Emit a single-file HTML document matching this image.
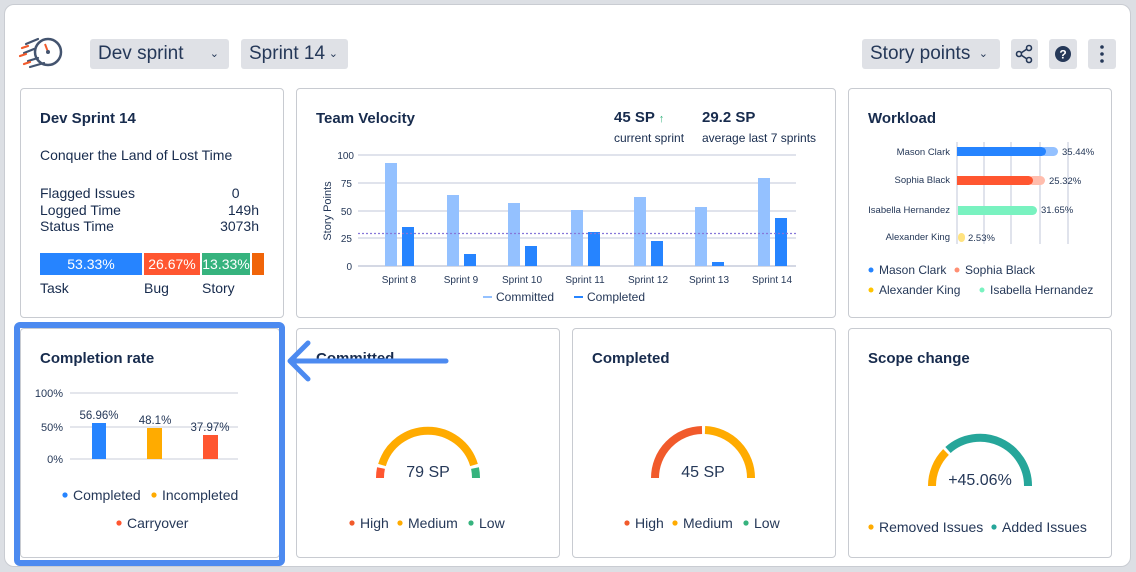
<!DOCTYPE html>
<html><head><meta charset="utf-8"><style>
*{margin:0;padding:0;box-sizing:border-box}
body{width:1136px;height:572px;background:#dcdfe4;font-family:"Liberation Sans",Arial,sans-serif;color:#172b4d;position:relative;overflow:hidden}
.frame{position:absolute;left:4px;top:4px;width:1127px;height:563px;background:#fff;border-radius:10px;border:1px solid #c9ccd2}
.card{position:absolute;background:#fff;border:1px solid #c8cbd1;border-radius:4px}
.t{position:absolute;font-size:15px;font-weight:bold;color:#172b4d}
.a{position:absolute;white-space:nowrap}
.btn{position:absolute;background:#dfe1e6;border-radius:3px;font-size:19px;color:#253858;height:30px;line-height:30px;padding-left:8px}
</style></head><body>
<div class="frame"></div>

<svg style="position:absolute;left:18px;top:34px" width="50" height="40" viewBox="0 0 50 40">
<circle cx="30" cy="18" r="13" fill="#fff" stroke="#44546f" stroke-width="2.5"/>
<line x1="30" y1="18" x2="27" y2="10" stroke="#f15a2b" stroke-width="2"/>
<circle cx="30" cy="18" r="2" fill="#44546f"/>
<path d="M8 10 L20 5 M6 19 L16 15 M10 27 L20 24 M12 33 L26 29" stroke="#44546f" stroke-width="2.2" stroke-linecap="round"/>
<path d="M4 14 L10 12 M2 22 L8 20 M6 30 L12 28" stroke="#f15a2b" stroke-width="2.2" stroke-linecap="round"/>
</svg>
<div class="btn" style="left:90px;top:39px;width:139px">Dev sprint <span style="position:absolute;right:10px;font-size:11px">&#8964;</span></div>
<div class="btn" style="left:241px;top:39px;width:107px">Sprint 14 <span style="position:absolute;right:10px;font-size:11px">&#8964;</span></div>
<div class="btn" style="left:862px;top:39px;width:138px">Story points <span style="position:absolute;right:12px;font-size:11px">&#8964;</span></div>
<div class="btn" style="left:1011px;top:39px;width:27px;padding:0"><svg width="27" height="30"><circle cx="8" cy="15" r="2.5" fill="none" stroke="#253858" stroke-width="1.6"/><circle cx="18" cy="9" r="2.5" fill="none" stroke="#253858" stroke-width="1.6"/><circle cx="18" cy="21" r="2.5" fill="none" stroke="#253858" stroke-width="1.6"/><path d="M10 14 L16 10 M10 16 L16 20" stroke="#253858" stroke-width="1.6"/></svg></div>
<div class="btn" style="left:1049px;top:39px;width:28px;padding:0"><svg width="28" height="30"><circle cx="14" cy="15" r="8" fill="#253858"/><text x="14" y="19.5" font-size="12" font-weight="bold" fill="#fff" text-anchor="middle" font-family="Liberation Sans">?</text></svg></div>
<div class="btn" style="left:1088px;top:39px;width:28px;padding:0"><svg width="28" height="30"><circle cx="14" cy="8" r="1.8" fill="#253858"/><circle cx="14" cy="15" r="1.8" fill="#253858"/><circle cx="14" cy="22" r="1.8" fill="#253858"/></svg></div>

<!-- Card 1 -->
<div class="card" style="left:20px;top:88px;width:264px;height:230px"></div>
<div class="t" style="left:40px;top:110px">Dev Sprint 14</div>
<div class="a" style="left:40px;top:147px;font-size:14px">Conquer the Land of Lost Time</div>
<div class="a" style="left:40px;top:185px;font-size:14px;line-height:16.5px">Flagged Issues<br>Logged Time<br>Status Time</div>
<div class="a" style="left:218px;top:185px;font-size:14px;line-height:16.5px;text-align:right;width:41px">0&nbsp;&nbsp;&nbsp;&nbsp;&nbsp;<br>149h<br>3073h</div>
<div class="a" style="left:40px;top:253px;width:102px;height:22px;background:#2684ff;color:#fff;font-size:14px;text-align:center;line-height:22px">53.33%</div>
<div class="a" style="left:144px;top:253px;width:56px;height:22px;background:#ff5630;color:#fff;font-size:14px;text-align:center;line-height:22px">26.67%</div>
<div class="a" style="left:202px;top:253px;width:48px;height:22px;background:#36b37e;color:#fff;font-size:14px;text-align:center;line-height:22px">13.33%</div>
<div class="a" style="left:252px;top:253px;width:12px;height:22px;background:#f06409"></div>
<div class="a" style="left:40px;top:280px;font-size:14px">Task</div>
<div class="a" style="left:144px;top:280px;font-size:14px">Bug</div>
<div class="a" style="left:202px;top:280px;font-size:14px">Story</div>

<!-- Card 2 velocity -->
<div class="card" style="left:296px;top:88px;width:540px;height:230px"></div>
<div class="t" style="left:316px;top:110px">Team Velocity</div>
<div class="a" style="left:614px;top:109px;font-size:15px;font-weight:bold">45 SP <span style="color:#36b37e;font-size:11px">&#8593;</span></div>
<div class="a" style="left:614px;top:131px;font-size:12px">current sprint</div>
<div class="a" style="left:702px;top:109px;font-size:15px;font-weight:bold">29.2 SP</div>
<div class="a" style="left:702px;top:131px;font-size:12px">average last 7 sprints</div>
<svg style="position:absolute;left:296px;top:88px" width="540" height="230" font-family="Liberation Sans" font-size="10" fill="#253858">
<g stroke="#c1c7d8" stroke-width="1">
<line x1="62" y1="67" x2="500" y2="67"/><line x1="62" y1="95" x2="500" y2="95"/><line x1="62" y1="123" x2="500" y2="123"/><line x1="62" y1="150" x2="500" y2="150"/><line x1="62" y1="178" x2="500" y2="178" stroke="#aab2c8"/>
</g>
<g text-anchor="end"><text x="58" y="71">100</text><text x="56" y="99">75</text><text x="56" y="127">50</text><text x="56" y="154">25</text><text x="56" y="182">0</text></g>
<text transform="translate(35,123) rotate(-90)" text-anchor="middle" font-size="11">Story Points</text>
<g fill="#94c1ff">
<rect x="89" y="75" width="12" height="103"/><rect x="151" y="107" width="12" height="71"/><rect x="212" y="115" width="12" height="63"/><rect x="275" y="122" width="12" height="56"/><rect x="338" y="109" width="12" height="69"/><rect x="399" y="119" width="12" height="59"/><rect x="462" y="90" width="12" height="88"/>
</g>
<g fill="#2684ff">
<rect x="106" y="139" width="12" height="39"/><rect x="168" y="166" width="12" height="12"/><rect x="229" y="158" width="12" height="20"/><rect x="292" y="144" width="12" height="34"/><rect x="355" y="153" width="12" height="25"/><rect x="416" y="174" width="12" height="4"/><rect x="479" y="130" width="12" height="48"/>
</g>
<line x1="62" y1="145.5" x2="500" y2="145.5" stroke="#8777d9" stroke-width="1.2" stroke-dasharray="2,2"/>
<g text-anchor="middle"><text x="103" y="195">Sprint 8</text><text x="165" y="195">Sprint 9</text><text x="226" y="195">Sprint 10</text><text x="289" y="195">Sprint 11</text><text x="352" y="195">Sprint 12</text><text x="413" y="195">Sprint 13</text><text x="476" y="195">Sprint 14</text></g>
<line x1="187" y1="209" x2="196" y2="209" stroke="#94c1ff" stroke-width="2"/><text x="200" y="213" font-size="12">Committed</text>
<line x1="278" y1="209" x2="287" y2="209" stroke="#2684ff" stroke-width="2"/><text x="291" y="213" font-size="12">Completed</text>
</svg>

<!-- Card 3 workload -->
<div class="card" style="left:848px;top:88px;width:264px;height:230px"></div>
<div class="t" style="left:868px;top:110px">Workload</div>
<svg style="position:absolute;left:848px;top:88px" width="264" height="230" font-family="Liberation Sans" font-size="9.5" fill="#253858">
<g stroke="#c1c7d8"><line x1="109" y1="54" x2="109" y2="156"/><line x1="136" y1="54" x2="136" y2="156"/><line x1="163" y1="54" x2="163" y2="156"/><line x1="192" y1="54" x2="192" y2="156"/><line x1="220" y1="54" x2="220" y2="156"/></g>
<g text-anchor="end"><text x="102" y="67">Mason Clark</text><text x="102" y="95">Sophia Black</text><text x="102" y="125">Isabella Hernandez</text><text x="102" y="152">Alexander King</text></g>
<rect x="192" y="59" width="18" height="9" rx="4.5" fill="#94c1ff"/>
<rect x="109" y="59" width="89" height="9" rx="4.5" fill="#2684ff"/><rect x="109" y="59" width="6" height="9" fill="#2684ff"/>
<rect x="180" y="88" width="17" height="9" rx="4.5" fill="#ffbdad"/>
<rect x="109" y="88" width="76" height="9" rx="4.5" fill="#ff5630"/><rect x="109" y="88" width="6" height="9" fill="#ff5630"/>
<rect x="110" y="118" width="79" height="9" rx="4.5" fill="#79f2c0"/><rect x="110" y="118" width="6" height="9" fill="#79f2c0"/>
<rect x="110" y="145" width="7" height="9" rx="4" fill="#ffe380"/>
<text x="214" y="67">35.44%</text><text x="201" y="96">25.32%</text><text x="193" y="125">31.65%</text><text x="120" y="153">2.53%</text>
<g font-size="12"><circle cx="23" cy="182" r="2.5" fill="#2684ff"/><text x="31" y="186">Mason Clark</text>
<circle cx="109" cy="182" r="2.5" fill="#ff8f73"/><text x="117" y="186">Sophia Black</text>
<circle cx="23" cy="202" r="2.5" fill="#ffc400"/><text x="31" y="206">Alexander King</text>
<circle cx="134" cy="202" r="2.5" fill="#79f2c0"/><text x="142" y="206">Isabella Hernandez</text></g>
</svg>

<!-- Row 2 -->
<div class="card" style="left:20px;top:328px;width:260px;height:230px"></div>
<div class="card" style="left:296px;top:328px;width:264px;height:230px"></div>
<div class="card" style="left:572px;top:328px;width:264px;height:230px"></div>
<div class="card" style="left:848px;top:328px;width:264px;height:230px"></div>

<div class="t" style="left:40px;top:350px">Completion rate</div>
<svg style="position:absolute;left:20px;top:328px" width="260" height="230" font-family="Liberation Sans" font-size="11.5" fill="#253858">
<g stroke="#c8cdd8"><line x1="50" y1="65" x2="218" y2="65"/><line x1="50" y1="99" x2="218" y2="99"/><line x1="50" y1="131" x2="218" y2="131"/></g>
<g text-anchor="end" font-size="11"><text x="43" y="69">100%</text><text x="43" y="103">50%</text><text x="43" y="135">0%</text></g>
<rect x="72" y="95" width="14" height="36" fill="#2684ff"/>
<rect x="127" y="100" width="15" height="31" fill="#ffab00"/>
<rect x="183" y="107" width="15" height="24" fill="#ff5630"/>
<g text-anchor="middle" font-size="11.5"><text x="79" y="91">56.96%</text><text x="135" y="96">48.1%</text><text x="190" y="103">37.97%</text></g>
<g font-size="14"><circle cx="45" cy="167" r="2.6" fill="#2684ff"/><text x="53" y="172">Completed</text>
<circle cx="134" cy="167" r="2.6" fill="#ffab00"/><text x="142" y="172">Incompleted</text>
<circle cx="99" cy="195" r="2.6" fill="#ff5630"/><text x="107" y="200">Carryover</text></g>
</svg>

<div class="t" style="left:316px;top:350px">Committed</div>
<div class="t" style="left:592px;top:350px">Completed</div>
<div class="t" style="left:868px;top:350px">Scope change</div>

<svg style="position:absolute;left:0;top:0" width="1136" height="572" font-family="Liberation Sans" fill="#253858">
<!-- committed gauge center 428,478 r48 -->
<g fill="none" stroke-width="8">
<path d="M380 478 A48 48 0 0 1 381 468" stroke="#ff5630"/>
<path d="M382 465 A48 48 0 0 1 474 465" stroke="#ffab00"/>
<path d="M475 468 A48 48 0 0 1 476 478" stroke="#36b37e"/>
<path d="M655 478 A48 48 0 0 1 702 430" stroke="#f15a2b"/>
<path d="M705 430 A48 48 0 0 1 751 478" stroke="#ffab00"/>
<path d="M932 486 A48 48 0 0 1 946 452" stroke="#ffab00"/>
<path d="M948 450 A48 48 0 0 1 1028 486" stroke="#26a69a"/>
</g>
<text x="428" y="477" text-anchor="middle" font-size="16">79 SP</text>
<text x="703" y="477" text-anchor="middle" font-size="16">45 SP</text>
<text x="980" y="485" text-anchor="middle" font-size="16">+45.06%</text>
<g font-size="14">
<circle cx="352" cy="523" r="2.6" fill="#f15a2b"/><text x="360" y="528">High</text>
<circle cx="400" cy="523" r="2.6" fill="#ffab00"/><text x="408" y="528">Medium</text>
<circle cx="471" cy="523" r="2.6" fill="#36b37e"/><text x="479" y="528">Low</text>
<circle cx="627" cy="523" r="2.6" fill="#f15a2b"/><text x="635" y="528">High</text>
<circle cx="675" cy="523" r="2.6" fill="#ffab00"/><text x="683" y="528">Medium</text>
<circle cx="746" cy="523" r="2.6" fill="#36b37e"/><text x="754" y="528">Low</text>
<circle cx="871" cy="527" r="2.6" fill="#ffab00"/><text x="879" y="532">Removed Issues</text>
<circle cx="994" cy="527" r="2.6" fill="#26a69a"/><text x="1002" y="532">Added Issues</text>
</g>
<!-- highlight -->
<rect x="17" y="325" width="265" height="238" rx="3" fill="none" stroke="#4c8af0" stroke-width="6"/>
<path d="M446 361 L290 361 M308 343 L290 361 L308 379" fill="none" stroke="#4c8af0" stroke-width="5" stroke-linecap="round" stroke-linejoin="round"/>
</svg>
</body></html>
